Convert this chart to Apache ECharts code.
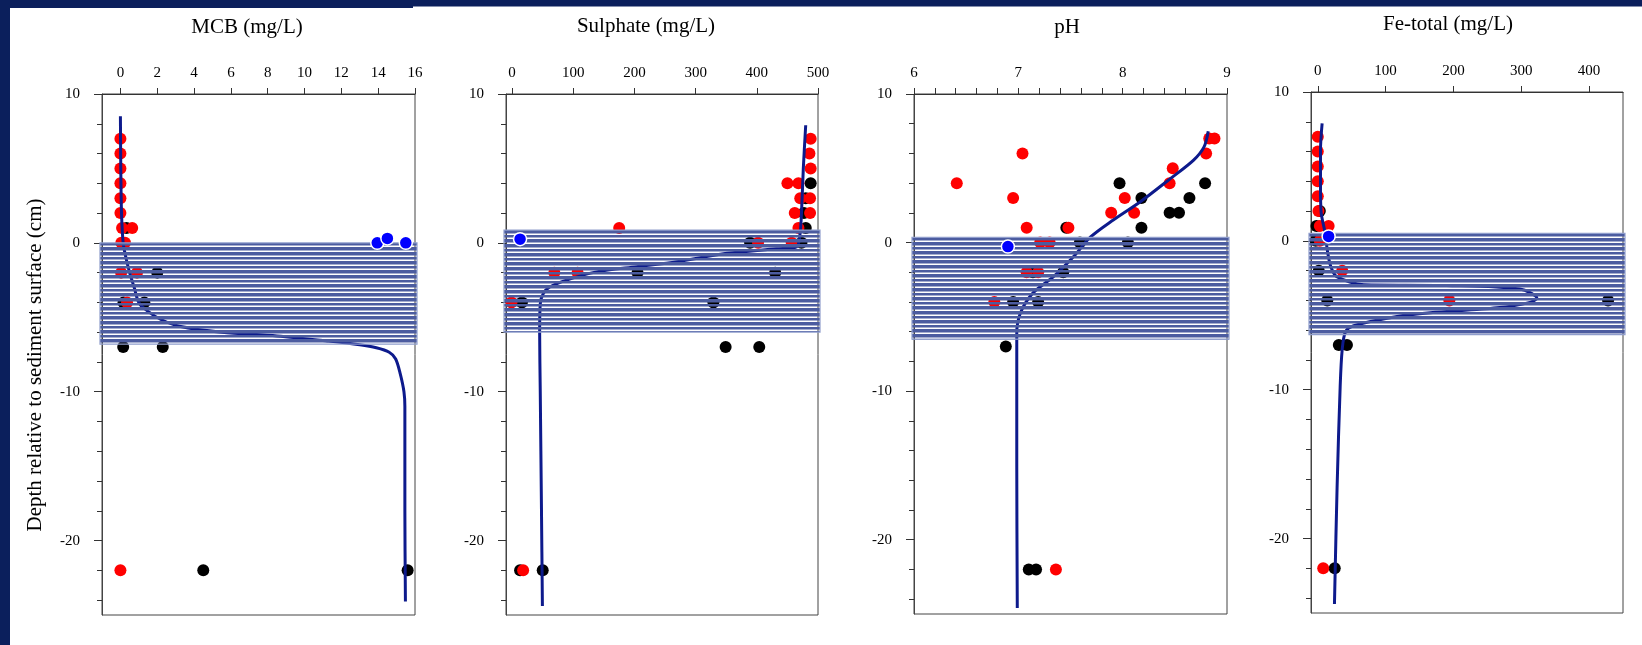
<!DOCTYPE html>
<html><head><meta charset="utf-8">
<script src="https://cdn.jsdelivr.net/npm/echarts@6/dist/echarts.min.js"></script>
<style>html,body{margin:0;padding:0;background:#fff;}#c{width:1642px;height:645px;}</style>
</head><body><div id="c"></div>
<script>
// ---------- data ----------
const panelTitles = ['MCB (mg/L)', 'Sulphate (mg/L)', 'pH', 'Fe-total (mg/L)'];
const yAxisTitle = 'Depth relative to sediment surface (cm)';
const depthRange = [-25, 10];
const depthLabels = [10, 0, -10, -20];
const depthTicks = [10, 8, 6, 4, 2, 0, -2, -4, -6, -8, -10, -12, -14, -16, -18, -20, -22, -24];

const mcbRange = [-1, 16];
const mcbTicks = [0, 2, 4, 6, 8, 10, 12, 14, 16];
const sulRange = [-10, 500];
const sulTicks = [0, 100, 200, 300, 400, 500];
const phRange = [6, 9];
const phLabels = [6, 7, 8, 9];
const phTicks = [6, 6.2, 6.4, 6.6, 6.8, 7, 7.2, 7.4, 7.6, 7.8, 8, 8.2, 8.4, 8.6, 8.8, 9];
const feRange = [-10, 450];
const feTicks = [0, 100, 200, 300, 400];

// [value, depth]
const mcbRed = [[0,7],[0,6],[0,5],[0,4],[0,3],[0,2],[0.09,1],[0.64,1],[0.05,0],[0.25,0],[0.04,-2],[0.9,-2],[0.36,-4],[0,-22]];
const mcbBlack = [[0.33,1],[2.0,-2],[0.17,-4],[1.3,-4],[0.15,-7],[2.3,-7],[4.5,-22],[15.6,-22]];
const mcbBlue = [[13.95,0],[14.5,0.3],[15.5,0]];
const mcbModel = [[0,8.5],[0.02,5],[0.06,2],[0.15,0],[0.3,-1],[0.5,-2],[0.75,-3],[1.0,-4],[1.5,-4.6],[2.2,-5.15],[3.2,-5.6],[5.5,-6.0],[8.5,-6.25],[11.3,-6.6],[13.0,-6.85],[13.9,-7.05],[14.6,-7.35],[14.95,-7.8],[15.2,-8.8],[15.4,-10.0],[15.45,-11],[15.45,-18],[15.48,-24.1]];
const mcbBand = [0, -6.8];

const sulRed = [[488,7],[486,6],[488,5],[450,4],[468,4],[471,3],[487,3],[462,2],[487,2],[468,1],[175,1],[402,0],[457,0],[69,-2],[107,-2],[-1,-4],[18,-22]];
const sulBlack = [[488,4],[480,3],[477,2],[480,1],[389,0],[473,0],[205,-2],[430,-2],[16,-4],[329,-4],[349,-7],[404,-7],[13,-22],[50,-22]];
const sulBlue = [[13,0.25]];
const sulModel = [[479.9,7.9],[476,5],[473,2],[470.6,0.6],[465,-0.27],[432,-0.4],[351,-0.7],[269,-1.27],[204,-1.6],[138,-1.95],[89,-2.5],[62,-2.95],[51,-3.4],[46,-4.1],[45,-6],[46,-10],[48,-18],[49.5,-24.4]];
const sulBand = [0.85, -6.0];

const phRed = [[6.41,4],[7.04,6],[6.95,3],[7.08,1],[7.48,1],[7.89,2],[8.02,3],[8.11,2],[8.45,4],[8.48,5],[8.80,6],[8.83,7],[8.88,7],[7.21,0],[7.30,0],[7.08,-2],[7.19,-2],[6.77,-4],[7.36,-22]];
const phBlack = [[7.46,1],[7.97,4],[8.18,3],[8.18,1],[8.45,2],[8.54,2],[8.64,3],[8.79,4],[7.59,0],[8.05,0],[7.14,-2],[7.43,-2],[6.95,-4],[7.19,-4],[6.88,-7],[7.10,-22],[7.17,-22]];
const phBlue = [[6.90,-0.27]];
const phModel = [[8.82,7.5],[8.78,6.44],[8.68,5.55],[8.46,4.32],[8.17,2.75],[7.91,1.52],[7.69,0.36],[7.53,-0.94],[7.34,-2.28],[7.14,-3.4],[7.02,-4.74],[6.985,-6.1],[6.985,-15],[6.99,-24.6]];
const phBand = [0.35, -6.5];

const feRed = [[0,7],[0,6],[0,5],[0,4],[0,3],[1,2],[3,1],[16,1],[3,0],[36,-2],[194,-4],[8,-22]];
const feBlack = [[3,2],[-2,1],[-3,0],[1.5,-2],[14,-4],[428,-4],[31,-7],[43,-7],[25,-22]];
const feBlue = [[16,0.3]];
const feModel = [[6.4,7.9],[4,6.1],[4,3.6],[5,1.9],[11,0.5],[14,-0.6],[19,-1.7],[28,-2.4],[68,-2.95],[190,-3.0],[298,-3.24],[323,-3.85],[313,-4.13],[264,-4.5],[166,-4.83],[117,-5.08],[53,-5.7],[41,-6.1],[36,-7.3],[33,-9.8],[28.5,-16.5],[24.6,-24.4]];
const feBand = [0.5, -6.3];

// ---------- layout / style ----------
const FONT = '"Liberation Serif", "Times New Roman", serif';
const panels = [
  {title: panelTitles[0], tx: 247, ty: 27, grid: {left: 102, top: 94, width: 313, height: 521}, range: mcbRange, labels: mcbTicks, ticks: mcbTicks, red: mcbRed, black: mcbBlack, blue: mcbBlue, model: mcbModel, band: mcbBand},
  {title: panelTitles[1], tx: 646, ty: 26, grid: {left: 506, top: 94, width: 312, height: 521}, range: sulRange, labels: sulTicks, ticks: sulTicks, red: sulRed, black: sulBlack, blue: sulBlue, model: sulModel, band: sulBand},
  {title: panelTitles[2], tx: 1067, ty: 27, grid: {left: 914, top: 94, width: 313, height: 520}, range: phRange, labels: phLabels, ticks: phTicks, red: phRed, black: phBlack, blue: phBlue, model: phModel, band: phBand},
  {title: panelTitles[3], tx: 1448, ty: 24, grid: {left: 1311, top: 92, width: 312, height: 521}, range: feRange, labels: feTicks, ticks: feTicks, red: feRed, black: feBlack, blue: feBlue, model: feModel, band: feBand}
];

const grids = [], xAxes = [], yAxes = [], series = [];
const graphics = [
  {type: 'rect', shape: {x: 0, y: 0, width: 413, height: 8}, style: {fill: '#0b1f5c'}, silent: true},
  {type: 'rect', shape: {x: 413, y: 0, width: 1229, height: 6.5}, style: {fill: '#0b1f5c'}, silent: true},
  {type: 'rect', shape: {x: 0, y: 0, width: 10, height: 645}, style: {fill: '#0b1f5c'}, silent: true},
  {type: 'text', x: 35, y: 365, rotation: Math.PI / 2, silent: true,
   style: {text: yAxisTitle, font: '21px ' + FONT, fill: '#000', textAlign: 'center', textVerticalAlign: 'middle'}}
];

panels.forEach((p, i) => {
  grids.push(Object.assign({show: true, borderColor: '#444', borderWidth: 1, backgroundColor: 'transparent'}, p.grid));
  graphics.push({type: 'text', x: p.tx, y: p.ty, silent: true,
    style: {text: p.title, font: '21px ' + FONT, fill: '#000', textAlign: 'center', textVerticalAlign: 'middle'}});
  xAxes.push({
    gridIndex: i, type: 'value', position: 'top', min: p.range[0], max: p.range[1],
    axisLine: {show: true, onZero: false, lineStyle: {color: '#333', width: 1}},
    axisTick: {show: true, length: 6, customValues: p.ticks, lineStyle: {color: '#333'}},
    axisLabel: {customValues: p.labels, margin: 13, color: '#000', fontFamily: FONT, fontSize: 15},
    splitLine: {show: false}
  });
  yAxes.push({
    gridIndex: i, type: 'value', position: 'left', offset: 0, min: depthRange[0], max: depthRange[1],
    axisLine: {show: true, onZero: false, lineStyle: {color: '#444', width: 1}},
    axisTick: {show: true, length: 8, customValues: depthLabels, lineStyle: {color: '#333'}},
    axisLabel: {customValues: depthLabels, margin: 22, color: '#000', fontFamily: FONT, fontSize: 15},
    splitLine: {show: false}
  });
  yAxes.push({
    gridIndex: i, type: 'value', position: 'left', offset: 0, min: depthRange[0], max: depthRange[1],
    axisLine: {show: false, onZero: false},
    axisTick: {show: true, length: 5, customValues: depthTicks, lineStyle: {color: '#333'}},
    axisLabel: {show: false},
    splitLine: {show: false}
  });
  const xi = i, yi = 2 * i;
  series.push({type: 'scatter', xAxisIndex: xi, yAxisIndex: yi, data: p.black, symbolSize: 12, itemStyle: {color: '#000', opacity: 1}, z: 3, silent: true});
  series.push({type: 'scatter', xAxisIndex: xi, yAxisIndex: yi, data: p.red, symbolSize: 12, itemStyle: {color: '#ff0000', opacity: 1}, z: 3, silent: true});
  series.push({type: 'line', xAxisIndex: xi, yAxisIndex: yi, data: p.model, showSymbol: false, smooth: 0.3,
    lineStyle: {color: '#0d1a8c', width: 3}, z: 4, silent: true});
  const xMin = p.range[0];
  series.push({type: 'custom', xAxisIndex: xi, yAxisIndex: yi, data: [p.band], z: 5, silent: true, clip: false,
    renderItem: (params, api) => {
      const cs = params.coordSys;
      const yTop = api.coord([xMin, api.value(0)])[1];
      const yBot = api.coord([xMin, api.value(1)])[1];
      const x = cs.x - 2, w = cs.width + 4;
      const period = 4.6;
      const children = [];
      for (let k = 0; yTop + k * period < yBot - 0.5; k++) {
        const y0 = Math.round(yTop + k * period);
        const y1 = Math.min(Math.round(yTop + (k + 1) * period) - 1.5, Math.round(yBot));
        children.push({type: 'rect', shape: {x: x, y: y0, width: w, height: Math.max(0.5, y1 - y0)}, style: {fill: '#4c5ca0'}});
      }
      children.push({type: 'rect', shape: {x: x, y: yTop, width: w, height: yBot - yTop}, style: {fill: 'none', stroke: '#8f9dcc', lineWidth: 1.2}});
      return {type: 'group', children: children};
    }});
  series.push({type: 'scatter', xAxisIndex: xi, yAxisIndex: yi, data: p.blue, symbolSize: 13,
    itemStyle: {color: '#0000ff', borderColor: '#fff', borderWidth: 1.5, opacity: 1}, z: 6, silent: true});
});

const chart = echarts.init(document.getElementById('c'), null, {renderer: 'canvas'});
chart.setOption({
  animation: false,
  backgroundColor: '#fff',
  grid: grids, xAxis: xAxes, yAxis: yAxes, series: series,
  graphic: graphics
});
</script></body></html>
